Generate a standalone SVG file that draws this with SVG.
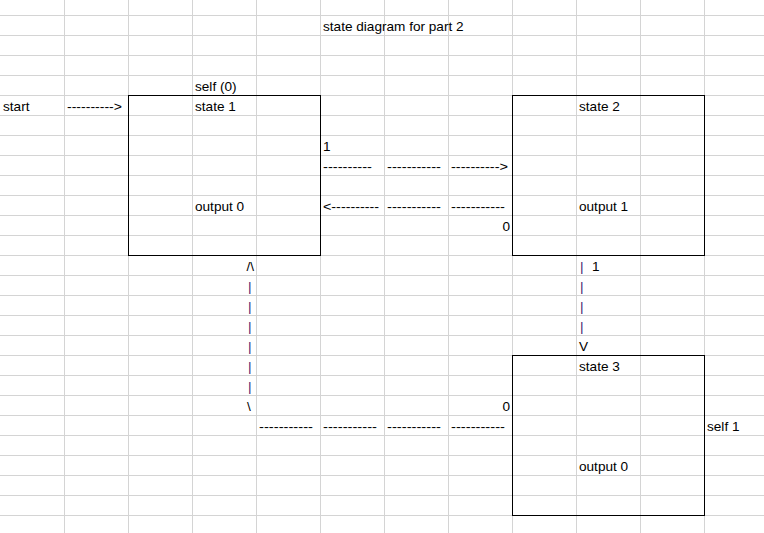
<svg xmlns="http://www.w3.org/2000/svg" width="764" height="533" viewBox="0 0 764 533">
<style>
.g{stroke:#d4d4d4;stroke-width:1}
.box{fill:none;stroke:#000;stroke-width:1}
text{font-family:"Liberation Sans",Arial,sans-serif;font-size:13.6px;fill:#000}
.bar{fill:#3d2470}
</style>
<rect width="764" height="533" fill="#fff"/>
<g id="grid">
<path class="g" d="M64.5 0V533M128.5 0V533M192.5 0V533M256.5 0V533M320.5 0V533M384.5 0V533M448.5 0V533M512.5 0V533M576.5 0V533M640.5 0V533M704.5 0V533"/>
<path class="g" d="M0 15.5H764M0 35.5H764M0 55.5H764M0 75.5H764M0 95.5H764M0 115.5H764M0 135.5H764M0 155.5H764M0 175.5H764M0 195.5H764M0 215.5H764M0 235.5H764M0 255.5H764M0 275.5H764M0 295.5H764M0 315.5H764M0 335.5H764M0 355.5H764M0 375.5H764M0 395.5H764M0 415.5H764M0 435.5H764M0 455.5H764M0 475.5H764M0 495.5H764M0 515.5H764"/>
</g>
<g id="title"><text x="323" y="31">state diagram for part 2</text></g>
<g id="start"><text x="3" y="111">start</text></g>
<g id="state1">
<rect class="box" x="128.5" y="95.5" width="192" height="160"/>
<text x="195" y="91">self (0)</text>
<text x="195" y="111">state 1</text>
<text x="195" y="211">output 0</text>
</g>
<g id="state2">
<rect class="box" x="512.5" y="95.5" width="192" height="160"/>
<text x="579" y="111">state 2</text>
<text x="579" y="211">output 1</text>
</g>
<g id="state3">
<rect class="box" x="512.5" y="355.5" width="192" height="160"/>
<text x="579" y="371">state 3</text>
<text x="579" y="471">output 0</text>
<text x="707" y="431">self 1</text>
</g>
<g id="connectors">
<text x="67" y="111" textLength="55" lengthAdjust="spacingAndGlyphs">----------&gt;</text>
<text x="323" y="151">1</text>
<text x="323" y="171" textLength="49" lengthAdjust="spacingAndGlyphs">----------</text>
<text x="387" y="171" textLength="54" lengthAdjust="spacingAndGlyphs">-----------</text>
<text x="451" y="171" textLength="57" lengthAdjust="spacingAndGlyphs">----------&gt;</text>
<text x="323" y="211" textLength="56" lengthAdjust="spacingAndGlyphs">&lt;----------</text>
<text x="387" y="211" textLength="54" lengthAdjust="spacingAndGlyphs">-----------</text>
<text x="451" y="211" textLength="54" lengthAdjust="spacingAndGlyphs">-----------</text>
<text x="510" y="231" text-anchor="end">0</text>
<text x="254" y="271" text-anchor="end">/\</text>
<text class="bar" x="248" y="291">|</text>
<text class="bar" x="248" y="311">|</text>
<text class="bar" x="248" y="331">|</text>
<text class="bar" x="248" y="351">|</text>
<text class="bar" x="248" y="371">|</text>
<text class="bar" x="248" y="391">|</text>
<text x="247" y="411">\</text>
<text x="259" y="431" textLength="54" lengthAdjust="spacingAndGlyphs">-----------</text>
<text x="323" y="431" textLength="54" lengthAdjust="spacingAndGlyphs">-----------</text>
<text x="387" y="431" textLength="54" lengthAdjust="spacingAndGlyphs">-----------</text>
<text x="451" y="431" textLength="54" lengthAdjust="spacingAndGlyphs">-----------</text>
<text x="510" y="411" text-anchor="end">0</text>
<text class="bar" x="580" y="271">|</text>
<text x="592" y="271">1</text>
<text class="bar" x="580" y="291">|</text>
<text class="bar" x="580" y="311">|</text>
<text class="bar" x="580" y="331">|</text>
<text x="579" y="351">V</text>
</g>
</svg>
